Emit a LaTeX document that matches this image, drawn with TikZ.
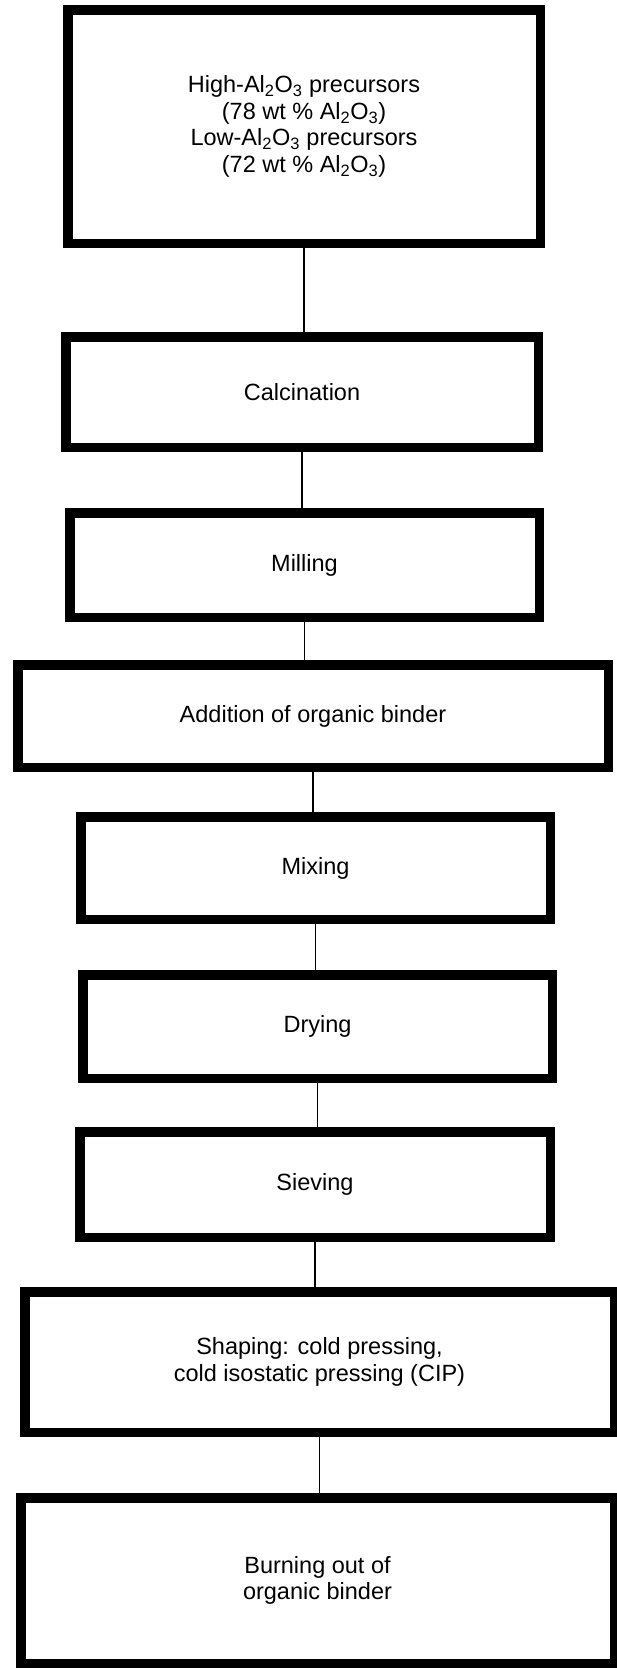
\documentclass[tikz,border=0pt]{standalone}
\usepackage{fontspec}
\setmainfont{Liberation Sans}
\usetikzlibrary{positioning}

\tikzset{
  stepbox/.style = {draw, rectangle, line width=9.5pt, inner sep=0pt,
    align=center, font=\fontsize{23.5}{26.5}\selectfont},
  link/.style = {draw, line width=1.2pt}
}
\newcommand{\alo}{Al\textsubscript{2}O\textsubscript{3}}

\begin{document}
\begin{tikzpicture} [x=1pt, y=-1pt]
\useasboundingbox (0,0) rectangle (617,1668);
\node (pre) [stepbox, minimum width=472.5pt, minimum height=233.5pt] at (304,126.5)
  {High-\alo{} precursors\\(78 wt \% \alo)\\Low-\alo{} precursors\\(72 wt \% \alo)};
\node (cal) [stepbox, minimum width=472.5pt, minimum height=110.5pt] at (302,392) {Calcination};
\node (mil) [stepbox, minimum width=469.5pt, minimum height=104.5pt] at (304.5,565) {Milling};
\node (bin) [stepbox, minimum width=590.5pt, minimum height=102.5pt] at (313,716) {Addition of organic binder};
\node (mix) [stepbox, minimum width=469.5pt, minimum height=102.5pt] at (315.5,868) {Mixing};
\node (dry) [stepbox, minimum width=469.5pt, minimum height=103.5pt] at (317.5,1026.5) {Drying};
\node (sie) [stepbox, minimum width=470.5pt, minimum height=105.5pt] at (315,1184.5) {Sieving};
\node (sha) [stepbox, minimum width=589.5pt, minimum height=140.5pt] at (319.5,1362)
  {Shaping: cold pressing,\\cold isostatic pressing (CIP)};
\node (bur) [stepbox, minimum width=593.5pt, minimum height=165.5pt] at (317.5,1580.5)
  {Burning out of\\organic binder};
\path [link]
    (pre.south) edge (pre.south |- cal.north)
    (cal.south) edge (cal.south |- mil.north)
    (mil.south) edge (mil.south |- bin.north)
    (bin.south) edge (bin.south |- mix.north)
    (mix.south) edge (mix.south |- dry.north)
    (dry.south) edge (dry.south |- sie.north)
    (sie.south) edge (sie.south |- sha.north)
    (sha.south) edge (sha.south |- bur.north);
\end{tikzpicture}
\end{document}
